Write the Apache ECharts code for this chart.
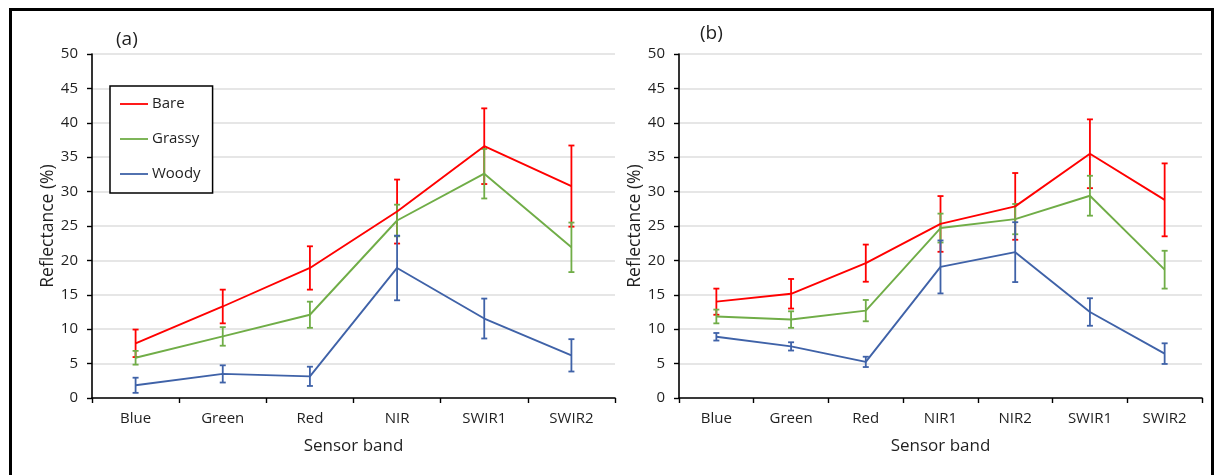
<!DOCTYPE html>
<html>
<head>
<meta charset="utf-8">
<script src="https://cdn.jsdelivr.net/npm/echarts@6/dist/echarts.min.js"></script>
<style>
  html, body { margin: 0; padding: 0; background: #fff; }
  #chart { width: 1215px; height: 475px; }
</style>
</head>
<body>
<div id="chart"></div>
<script>
// Panel (a): band means and error half-widths (reflectance, %)
const bandsA = ['Blue', 'Green', 'Red', 'NIR', 'SWIR1', 'SWIR2'];
const bareA = [7.95, 13.3, 18.9, 27.1, 36.6, 30.8];
const bareErrA = [2.0, 2.45, 3.15, 4.65, 5.5, 5.9];
const grassyA = [5.85, 8.95, 12.1, 25.8, 32.6, 21.9];
const grassyErrA = [1.0, 1.35, 1.9, 2.3, 3.6, 3.6];
const woodyA = [1.85, 3.5, 3.15, 18.9, 11.55, 6.2];
const woodyErrA = [1.1, 1.25, 1.4, 4.7, 2.9, 2.35];

// Panel (b)
const bandsB = ['Blue', 'Green', 'Red', 'NIR1', 'NIR2', 'SWIR1', 'SWIR2'];
const bareB = [14.0, 15.15, 19.6, 25.3, 27.85, 35.5, 28.8];
const bareErrB = [1.9, 2.15, 2.7, 4.05, 4.85, 5.0, 5.3];
const grassyB = [11.85, 11.4, 12.7, 24.7, 26.0, 29.4, 18.65];
const grassyErrB = [1.0, 1.2, 1.55, 2.1, 2.2, 2.9, 2.75];
const woodyB = [8.9, 7.5, 5.25, 19.05, 21.2, 12.5, 6.45];
const woodyErrB = [0.55, 0.6, 0.75, 3.85, 4.35, 2.0, 1.5];

const yTicks = { min: 0, max: 50, interval: 5 };
const colors = { Bare: '#ff0000', Grassy: '#70ad47', Woody: '#3f62a8' };
const FONT = '"Open Sans", sans-serif';
const TEXT = '#1f1f1f';

function errData(mean, err) {
  return mean.map((m, i) => [i, m - err[i], m + err[i]]);
}

function errorSeries(name, mean, err, axisIdx) {
  return {
    type: 'custom',
    name: name,
    xAxisIndex: axisIdx,
    yAxisIndex: axisIdx,
    data: errData(mean, err),
    encode: { x: 0, y: [1, 2] },
    z: 3,
    silent: true,
    renderItem: function (params, api) {
      const lo = api.coord([api.value(0), api.value(1)]);
      const hi = api.coord([api.value(0), api.value(2)]);
      const cw = 3;
      const style = { stroke: colors[name], lineWidth: 1.8, fill: null };
      return {
        type: 'group',
        children: [
          { type: 'line', shape: { x1: lo[0], y1: lo[1], x2: hi[0], y2: hi[1] }, style: style },
          { type: 'line', shape: { x1: lo[0] - cw, y1: lo[1], x2: lo[0] + cw, y2: lo[1] }, style: style },
          { type: 'line', shape: { x1: hi[0] - cw, y1: hi[1], x2: hi[0] + cw, y2: hi[1] }, style: style }
        ]
      };
    }
  };
}

function lineSeries(name, values, axisIdx) {
  return {
    type: 'line',
    name: name,
    xAxisIndex: axisIdx,
    yAxisIndex: axisIdx,
    data: values,
    symbol: 'none',
    z: 3,
    lineStyle: { color: colors[name], width: 1.9 },
    itemStyle: { color: colors[name] }
  };
}

function xAxis(cats, gridIdx) {
  return {
    type: 'category',
    gridIndex: gridIdx,
    data: cats,
    boundaryGap: true,
    axisLine: { lineStyle: { color: '#000', width: 1.6 } },
    axisTick: { show: true, length: 5, lineStyle: { color: '#000', width: 1.4 } },
    axisLabel: { color: TEXT, fontFamily: FONT, fontSize: 15, margin: 13 },
    name: 'Sensor band',
    nameLocation: 'middle',
    nameGap: 40,
    nameTextStyle: { color: TEXT, fontFamily: FONT, fontSize: 17 }
  };
}

function yAxis(gridIdx) {
  return {
    type: 'value',
    gridIndex: gridIdx,
    min: yTicks.min,
    max: yTicks.max,
    interval: yTicks.interval,
    axisLine: { show: true, lineStyle: { color: '#000', width: 1.6 } },
    axisTick: { show: true, length: 5, lineStyle: { color: '#000', width: 1.4 } },
    axisLabel: { color: TEXT, fontFamily: FONT, fontSize: 15, margin: 14 },
    splitLine: { show: true, lineStyle: { color: '#dedede', width: 1.6 } },
    name: 'Reflectance (%)',
    nameLocation: 'middle',
    nameGap: 35,
    nameTextStyle: { color: TEXT, fontFamily: FONT, fontSize: 17.5 }
  };
}

const chart = echarts.init(document.getElementById('chart'), null, { renderer: 'canvas' });

chart.setOption({
  animation: false,
  backgroundColor: '#fff',
  title: [
    { text: '(a)', left: 111, top: 25, textStyle: { fontFamily: FONT, fontSize: 19, fontWeight: 'normal', color: TEXT } },
    { text: '(b)', left: 695, top: 19, textStyle: { fontFamily: FONT, fontSize: 19, fontWeight: 'normal', color: TEXT } }
  ],
  legend: {
    left: 110,
    top: 86,
    orient: 'vertical',
    data: ['Bare', 'Grassy', 'Woody'],
    icon: 'rect',
    itemWidth: 28,
    itemHeight: 1.8,
    itemGap: 15,
    padding: [8, 12, 9, 10],
    borderColor: '#000',
    borderWidth: 1.5,
    backgroundColor: '#fff',
    textStyle: { color: TEXT, fontFamily: FONT, fontSize: 15, lineHeight: 20, padding: [0, 0, 0, -1] },
    selectedMode: false
  },
  grid: [
    { left: 92, top: 54, width: 523, height: 344 },
    { left: 679, top: 54, width: 523, height: 344 }
  ],
  xAxis: [xAxis(bandsA, 0), xAxis(bandsB, 1)],
  yAxis: [yAxis(0), yAxis(1)],
  series: [
    lineSeries('Bare', bareA, 0), errorSeries('Bare', bareA, bareErrA, 0),
    lineSeries('Grassy', grassyA, 0), errorSeries('Grassy', grassyA, grassyErrA, 0),
    lineSeries('Woody', woodyA, 0), errorSeries('Woody', woodyA, woodyErrA, 0),
    lineSeries('Bare', bareB, 1), errorSeries('Bare', bareB, bareErrB, 1),
    lineSeries('Grassy', grassyB, 1), errorSeries('Grassy', grassyB, grassyErrB, 1),
    lineSeries('Woody', woodyB, 1), errorSeries('Woody', woodyB, woodyErrB, 1)
  ],
  graphic: [
    {
      type: 'rect',
      silent: true,
      z: 100,
      shape: { x: 10.5, y: 9.5, width: 1202, height: 480 },
      style: { fill: null, stroke: '#000', lineWidth: 3 }
    }
  ]
});
</script>
</body>
</html>
